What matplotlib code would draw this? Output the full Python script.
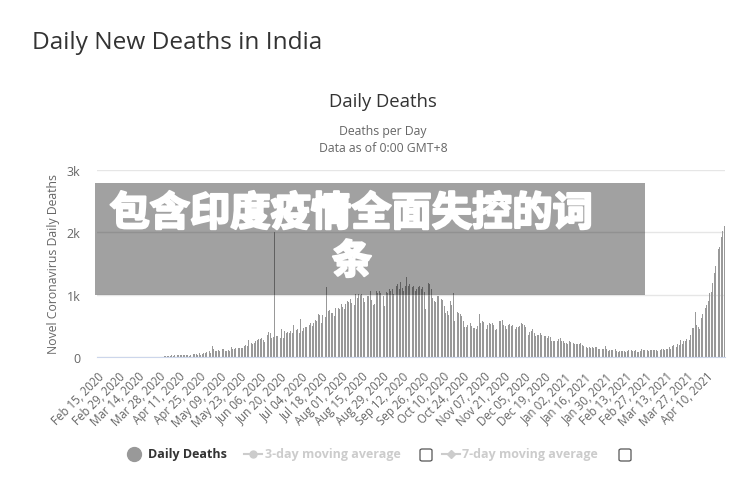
import pandas as pd
import matplotlib.pyplot as plt
import matplotlib.patheffects as pe
from matplotlib.patches import Rectangle, FancyBboxPatch
from matplotlib.lines import Line2D

# daily deaths, one list per month
deaths_2020_02 = [0, 0, 0, 0, 0, 0, 0, 0, 0, 0, 0, 0, 0, 0, 0]
deaths_2020_03 = [0, 0, 0, 0, 0, 0, 0, 0, 0, 0, 0, 1, 1, 0, 0, 0, 1, 0, 1, 1,
                  1, 3, 2, 1, 2, 3, 4, 6, 5, 6, 12]
deaths_2020_04 = [9, 16, 15, 12, 22, 27, 24, 35, 33, 40, 35, 38, 31, 35, 38, 33,
                  38, 23, 36, 37, 47, 50, 43, 37, 57, 40, 51, 57, 71, 77]
deaths_2020_05 = [72, 93, 68, 170, 127, 92, 104, 116, 97, 87, 122, 134, 100, 103,
                  120, 100, 157, 134, 132, 140, 132, 148, 137, 142, 146, 170, 194,
                  175, 269, 193, 230]
deaths_2020_06 = [204, 230, 260, 273, 294, 286, 297, 266, 246, 279, 357, 396, 386,
                  311, 325, 2003, 341, 336, 375, 306, 445, 312, 418, 384, 407, 380,
                  418, 381, 507, 418]
deaths_2020_07 = [434, 442, 379, 613, 425, 467, 482, 487, 475, 519, 551, 500, 553,
                  587, 582, 687, 671, 543, 681, 587, 648, 1120, 740, 757, 705, 708,
                  654, 779, 768, 779, 764]
deaths_2020_08 = [853, 801, 771, 857, 904, 886, 933, 871, 1007, 835, 1007, 942, 1006,
                  989, 1007, 941, 876, 1092, 977, 984, 1063, 912, 836, 848, 1059,
                  1023, 1065, 1021, 1043, 971, 819]
deaths_2020_09 = [1045, 1025, 1096, 1065, 1089, 1016, 903, 1133, 1172, 1096, 1201,
                  1114, 1054, 1136, 1290, 1132, 1174, 1247, 1130, 1133, 1053, 1085,
                  1129, 1141, 1089, 1124, 1039, 776, 1179, 1181]
deaths_2020_10 = [1179, 1095, 940, 903, 884, 986, 971, 963, 926, 918, 816, 706, 730,
                  680, 895, 837, 1033, 579, 587, 717, 703, 690, 650, 578, 480, 488,
                  517, 587, 551, 490, 470]
deaths_2020_11 = [470, 449, 490, 690, 543, 577, 559, 510, 448, 512, 549, 530, 547,
                  510, 435, 444, 474, 584, 585, 590, 511, 492, 447, 521, 524, 496,
                  518, 486, 443, 482]
deaths_2020_12 = [482, 503, 540, 524, 511, 482, 408, 355, 402, 411, 442, 391, 336,
                  354, 355, 387, 347, 338, 340, 333, 299, 338, 327, 251, 264, 251,
                  279, 251, 286, 299, 252]
deaths_2021_01 = [256, 217, 224, 201, 264, 237, 222, 228, 214, 212, 202, 201, 219,
                  189, 175, 181, 162, 137, 162, 151, 163, 150, 166, 160, 132, 123,
                  161, 123, 127, 181, 123]
deaths_2021_02 = [94, 108, 106, 107, 115, 127, 93, 82, 96, 101, 91, 96, 77, 92, 117,
                  80, 110, 101, 99, 118, 84, 81, 103, 123, 118, 115, 129, 112]
deaths_2021_03 = [98, 106, 113, 106, 113, 109, 95, 96, 115, 133, 125, 112, 135, 136,
                  158, 131, 181, 185, 189, 158, 201, 197, 276, 212, 251, 258, 292,
                  311, 272, 354, 459]
deaths_2021_04 = [469, 714, 513, 478, 446, 630, 685, 794, 780, 839, 904, 1027, 1038,
                  1185, 1341, 1460, 1620, 1730, 1761, 1920, 2020, 2100]

daily_deaths = (deaths_2020_02 + deaths_2020_03 + deaths_2020_04 + deaths_2020_05 +
                deaths_2020_06 + deaths_2020_07 + deaths_2020_08 + deaths_2020_09 +
                deaths_2020_10 + deaths_2020_11 + deaths_2020_12 + deaths_2021_01 +
                deaths_2021_02 + deaths_2021_03 + deaths_2021_04)
dates = pd.date_range('2020-02-15', periods=len(daily_deaths), freq='D')

y_ticks = [0, 1000, 2000, 3000]
y_tick_labels = ['0', '1k', '2k', '3k']
legend_names = ['Daily Deaths', '3-day moving average', '7-day moving average']

plt.rcParams['font.family'] = ['Open Sans', 'DejaVu Sans']

W, H = 741, 481
fig = plt.figure(figsize=(W / 100, H / 100), dpi=100)

def fx(px):
    return px / W

def fy(py):
    return 1 - py / H

ax = fig.add_axes([fx(97), fy(358), fx(725) - fx(97), fy(171) - fy(358)])
n = len(daily_deaths)
ax.bar(range(n), daily_deaths, width=0.62, color='#999999', linewidth=0, zorder=2)
ax.set_xlim(-0.5, n - 0.5)
ax.set_ylim(0, 3000)

ax.set_yticks(y_ticks)
ax.set_yticklabels(y_tick_labels)
ax.grid(axis='y', color='#e6e6e6', linewidth=1, zorder=0)
for s in ['top', 'right', 'left']:
    ax.spines[s].set_visible(False)
ax.spines['bottom'].set_color('#ccd6eb')
ax.tick_params(axis='y', length=0, pad=12, labelsize=9, labelcolor='#666666')

tick_idx = list(range(0, n, 14))
ax.set_xticks(tick_idx)
ax.set_xticklabels([dates[i].strftime('%b %d, %Y') for i in tick_idx],
                   rotation=45, ha='right', rotation_mode='anchor')
ax.tick_params(axis='x', length=0, pad=9, labelsize=8.3, labelcolor='#666666')
ax.set_ylabel('Novel Coronavirus Daily Deaths', fontsize=8.8, color='#666666', labelpad=5)

# titles
fig.text(fx(32), fy(43), 'Daily New Deaths in India', fontsize=17.6, color='#333333',
         va='center', ha='left')
fig.text(fx(383), fy(102), 'Daily Deaths', fontsize=13.3, color='#333333',
         va='center', ha='center')
fig.text(fx(383), fy(132), 'Deaths per Day', fontsize=8.8, color='#666666',
         va='center', ha='center')
fig.text(fx(383), fy(148), 'Data as of 0:00 GMT+8', fontsize=8.8, color='#666666',
         va='center', ha='center')

# legend
fig.add_artist(Line2D([fx(134)], [fy(455)], marker='o', markersize=10,
                      color='#999999', linestyle='none'))
fig.text(fx(148), fy(455), legend_names[0], fontsize=9.0, fontweight='bold',
         color='#333333', va='center')
fig.add_artist(Line2D([fx(244), fx(262)], [fy(455), fy(455)], color='#cccccc', lw=1.5))
fig.add_artist(Line2D([fx(253)], [fy(455)], marker='o', markersize=5,
                      color='#cccccc', linestyle='none'))
fig.text(fx(265), fy(455), legend_names[1], fontsize=9.0, fontweight='bold',
         color='#cccccc', va='center')
fig.add_artist(Line2D([fx(442), fx(460)], [fy(455), fy(455)], color='#cccccc', lw=1.5))
fig.add_artist(Line2D([fx(451)], [fy(455)], marker='D', markersize=4,
                      color='#cccccc', linestyle='none'))
fig.text(fx(462), fy(455), legend_names[2], fontsize=9.0, fontweight='bold',
         color='#cccccc', va='center')
for bx in [420, 619]:
    fig.add_artist(FancyBboxPatch((fx(bx), fy(462)), fx(12), 12 / H,
                                  boxstyle='round,pad=0,rounding_size=0.003',
                                  facecolor='white', edgecolor='#555555', lw=0.9,
                                  transform=fig.transFigure))

# overlay banner
fig.add_artist(Rectangle((fx(95), fy(296)), fx(645) - fx(95), fy(184) - fy(296),
                         transform=fig.transFigure, facecolor='black', alpha=0.37,
                         linewidth=0, zorder=5))
bold_fx = [pe.withStroke(linewidth=1.6, foreground='white')]
fig.text(fx(351), fy(215), '包含印度疫情全面失控的词', fontsize=29, fontweight='bold',
         color='white', ha='center', va='center', family=['Noto Sans CJK SC'],
         zorder=6, path_effects=bold_fx)
fig.text(fx(352), fy(263), '条', fontsize=29, fontweight='bold',
         color='white', ha='center', va='center', family=['Noto Sans CJK SC'],
         zorder=6, path_effects=bold_fx)

fig.savefig('out.png', dpi=100)
